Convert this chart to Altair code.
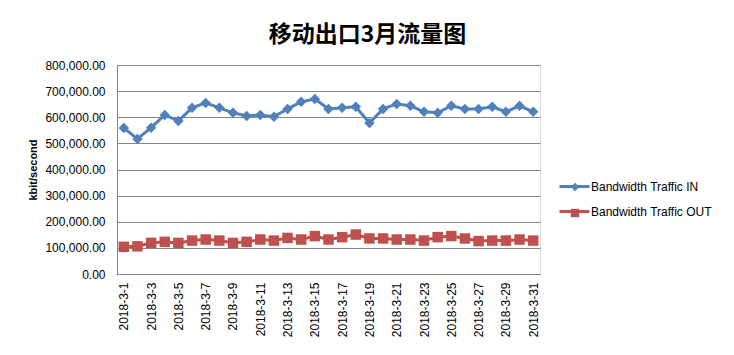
import altair as alt
import pandas as pd

days = ["2018-3-1", "2018-3-2", "2018-3-3", "2018-3-4", "2018-3-5", "2018-3-6",
        "2018-3-7", "2018-3-8", "2018-3-9", "2018-3-10", "2018-3-11", "2018-3-12",
        "2018-3-13", "2018-3-14", "2018-3-15", "2018-3-16", "2018-3-17", "2018-3-18",
        "2018-3-19", "2018-3-20", "2018-3-21", "2018-3-22", "2018-3-23", "2018-3-24",
        "2018-3-25", "2018-3-26", "2018-3-27", "2018-3-28", "2018-3-29", "2018-3-30",
        "2018-3-31"]

shown_labels = ["2018-3-1", "2018-3-3", "2018-3-5", "2018-3-7", "2018-3-9", "2018-3-11",
                "2018-3-13", "2018-3-15", "2018-3-17", "2018-3-19", "2018-3-21", "2018-3-23",
                "2018-3-25", "2018-3-27", "2018-3-29", "2018-3-31"]

traffic_in = [559000, 517000, 560000, 609000, 586000, 636000, 655000, 636000, 617000,
              605000, 609000, 602000, 632000, 659000, 670000, 632000, 636000, 640000,
              578000, 632000, 651000, 644000, 621000, 617000, 644000, 632000, 632000,
              640000, 621000, 644000, 621000]

traffic_out = [104000, 106000, 119000, 123000, 119000, 128000, 132000, 128000, 119000,
               123000, 132000, 128000, 138000, 132000, 145000, 132000, 141000, 151000,
               136000, 136000, 132000, 132000, 128000, 141000, 145000, 136000, 126000,
               128000, 128000, 132000, 128000]

series_names = ["Bandwidth Traffic IN", "Bandwidth Traffic OUT"]
series_colors = ["#4F81BD", "#C0504D"]
series_shapes = ["diamond", "square"]
y_ticks = [0, 100000, 200000, 300000, 400000, 500000, 600000, 700000, 800000]

rows = []
for d, v in zip(days, traffic_in):
    rows.append({"day": d, "series": series_names[0], "value": v})
for d, v in zip(days, traffic_out):
    rows.append({"day": d, "series": series_names[1], "value": v})
df = pd.DataFrame(rows)

FONT = "Liberation Sans"
LEG_X = 441

x_enc = alt.X(
    "day:N",
    sort=days,
    scale=alt.Scale(type="point", padding=0.5),
    axis=alt.Axis(
        title=None, values=shown_labels, labelAngle=-90, ticks=False,
        labelPadding=8, grid=False, labelFont=FONT, labelFontSize=12,
        labelColor="#000000", domainColor="#868686", labelOverlap=False,
    ),
)
y_enc = alt.Y(
    "value:Q",
    scale=alt.Scale(domain=[0, 800000], nice=False),
    axis=alt.Axis(
        title="kbit/second", values=y_ticks, format=",.2f", ticks=False,
        labelPadding=12, labelFont=FONT, labelFontSize=12, labelColor="#000000",
        titleFont=FONT, titleFontSize=11, titleFontWeight="bold",
        titleColor="#000000", titlePadding=6, gridColor="#868686",
        domainColor="#868686",
    ),
)
color_scale = alt.Scale(domain=series_names, range=series_colors)

marker_legend = dict(
    title=None, orient="none", legendX=LEG_X, legendY=116,
    labelExpr="''", labelFontSize=12,
    symbolSize=70, symbolOffset=11, symbolOpacity=1,
    symbolStrokeWidth=0, labelOffset=0, rowPadding=14,
)

lines = alt.Chart(df).mark_line(strokeWidth=3).encode(
    x=x_enc,
    y=y_enc,
    color=alt.Color(
        "series:N", scale=color_scale,
        legend=alt.Legend(
            title=None, orient="none", legendX=LEG_X, legendY=105,
            labelFont=FONT, labelFontSize=12, labelColor="#000000",
            symbolType="stroke", symbolSize=900, symbolStrokeWidth=3,
            labelOffset=0, rowPadding=2,
        ),
    ),
)
points = alt.Chart(df).mark_point(filled=True, opacity=1, size=110).encode(
    x=x_enc,
    y=y_enc,
    color=alt.Color("series:N", scale=color_scale,
                    legend=alt.Legend(**marker_legend)),
    shape=alt.Shape(
        "series:N",
        scale=alt.Scale(domain=series_names, range=series_shapes),
        legend=alt.Legend(**marker_legend),
    ),
)

chart = alt.layer(lines, points).resolve_legend(
    color="independent", shape="independent"
).properties(
    width=423,
    height=209,
    autosize=alt.AutoSizeParams(type="none"),
    padding={"left": 117, "top": 65, "right": 194, "bottom": 81},
    title=alt.Title(
        "移动出口3月流量图", font="Noto Sans CJK SC", fontSize=23,
        fontWeight="bold", color="#000000", anchor="middle", dx=39, offset=12,
    ),
).configure_view(stroke=None).configure(background="#ffffff")

chart.save("out.html", embed_options={"renderer": "svg", "actions": False})
